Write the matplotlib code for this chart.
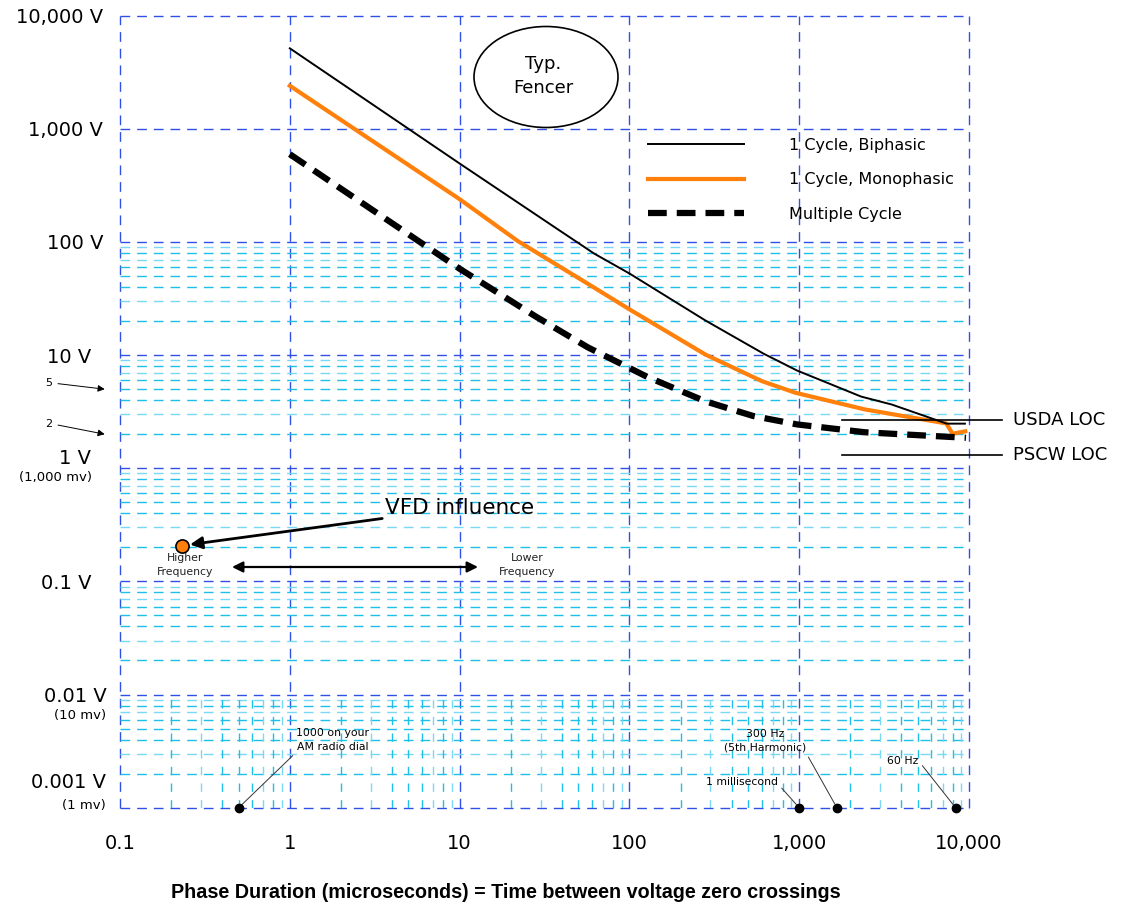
import numpy as np
import matplotlib.pyplot as plt
from matplotlib.patches import Ellipse
from matplotlib.transforms import ScaledTranslation

# phase duration (microseconds) vs peak voltage
bi_us = [1, 10, 38, 62, 100, 281, 617, 973, 2318, 3507, 7387, 9460]
bi_v = [5150, 494, 129, 79, 52.7, 20.2, 10.3, 7.3, 4.3, 3.66, 2.48, 2.48]

mono_us = [1, 10, 22, 62, 100, 281, 603, 950, 2440, 7350, 8000, 9500]
mono_v = [2404, 239, 102, 39.5, 25.4, 10.1, 5.89, 4.65, 3.31, 2.49, 2.02, 2.12]

multi_us = [1, 10, 28, 57, 100, 128, 281, 535, 973, 2440, 9600]
multi_v = [597, 58, 22, 11.7, 7.7, 6.4, 3.9, 2.9, 2.44, 2.08, 1.86]

loc_names = ['USDA LOC', 'PSCW LOC']
loc_v = [2.66, 1.30]

vfd_us = 0.231
vfd_v = 0.207

marker_us = [0.5, 1000, 1667, 8333]
marker_text = ['1000 on your\nAM radio dial', '1 millisecond', '300 Hz\n(5th Harmonic)', '60 Hz']

x_ticks = [0.1, 1, 10, 100, 1000, 10000]
x_labels = ['0.1', '1', '10', '100', '1,000', '10,000']
y_ticks = [1e4, 1e3, 100, 10, 1, 0.1, 0.01, 0.001]
y_labels = ['10,000 V', '1,000 V', '100 V', '10 V', '1 V', '0.1 V', '0.01 V', '0.001 V']
mv_labels = ['(1,000 mv)', '(10 mv)', '(1 mv)']

W, H = 1137, 909
fig = plt.figure(figsize=(W/100, H/100), dpi=100)
L, R, T, B = 120, 969, 15.7, 807.7
ax = fig.add_axes([L/W, 1-B/H, (R-L)/W, (B-T)/H])
ax.set_xscale('log'); ax.set_yscale('log')
ax.set_xlim(0.1, 1e4); ax.set_ylim(1e-3, 1e4)
for s in ax.spines.values():
    s.set_visible(False)

def axpos(px, py):
    # pixel position in the reference -> axes fraction
    return (px-L)/(R-L), (B-py)/(B-T)

# grid
major_c = '#2f50e4'
cyan_dark = '#1ec0ea'
cyan_light = '#78d8f6'
dash = (0, (7, 5))
for yv in y_ticks:
    ax.axhline(yv, color=major_c, lw=1, ls=dash, clip_on=False, zorder=1)
for xv in x_ticks:
    ax.axvline(xv, color=major_c, lw=1, ls=dash, clip_on=False, zorder=1)
for dec in [0.001, 0.01, 0.1, 1, 10]:
    for m in range(2, 10):
        c = cyan_light if m in (3, 7, 9) else cyan_dark
        ax.axhline(dec*m, color=c, lw=1, ls=dash, zorder=1)
for dec in [0.1, 1, 10, 100, 1000]:
    for m in range(2, 10):
        c = cyan_light if m in (3, 7, 9) else cyan_dark
        ax.vlines(dec*m, 0.001, 0.01, colors=c, lw=1, ls=(0, (6, 6)), zorder=1)

# curves
ax.plot(bi_us, bi_v, color='black', lw=1.4, zorder=4, label='1 Cycle, Biphasic')
ax.plot(mono_us, mono_v, color='#ff800a', lw=3, zorder=3, label='1 Cycle, Monophasic')
ax.plot(multi_us, multi_v, color='black', lw=4.5, ls=(0, (3, 1.6)), zorder=5,
        label='Multiple Cycle')

ax.legend(loc='upper left', bbox_to_anchor=(648/W, 1-138/H), bbox_transform=fig.transFigure,
          frameon=False, fontsize=11.5, handlelength=6, handletextpad=2.8,
          labelspacing=1.22, borderpad=0, borderaxespad=0)

# ticks
ax.minorticks_off()
ax.set_xticks(x_ticks, x_labels, fontsize=14)
ax.set_yticks(y_ticks, y_labels, fontsize=14)
ax.tick_params(length=0)
ax.tick_params(axis='x', pad=19)
ax.tick_params(axis='y', pad=12)
shifts = [(0, 0), (0, 0), (0, 0), (-12, 0), (-12, 12), (-12, 0), (3, 0), (3, 27)]
for lab, (dx, dy) in zip(ax.get_yticklabels(), shifts):
    lab.set_transform(lab.get_transform() + ScaledTranslation(dx/100, dy/100, fig.dpi_scale_trans))
for txt, (px, py) in zip(mv_labels, [(92, 477), (106, 716), (106, 806)]):
    ax.text(*axpos(px, py), txt, transform=ax.transAxes, ha='right', va='center', fontsize=9.5)

# small 5 / 2 pointers on the left
for lbl, yv, py in [('5', 5, 383), ('2', 2, 424)]:
    ax.annotate(lbl, xy=(-0.018, yv), xycoords=('axes fraction', 'data'),
                xytext=axpos(49, py), textcoords='axes fraction', fontsize=8,
                ha='center', va='center', annotation_clip=False,
                arrowprops=dict(arrowstyle='-|>', color='black', lw=0.7,
                                mutation_scale=10, shrinkA=2, shrinkB=0, relpos=(1, 0.5)))

# typical fencer bubble
ax.add_patch(Ellipse(axpos(546, 77), 144/(R-L), 101/(B-T), transform=ax.transAxes,
                     facecolor='white', edgecolor='black', lw=1.2, zorder=6, clip_on=False))
ax.text(*axpos(543, 76), 'Typ.\nFencer', transform=ax.transAxes, ha='center', va='center',
        fontsize=13, linespacing=1.4, zorder=7)

# LOC levels
for name, lv, in zip(loc_names, loc_v):
    ax.plot([axpos(842, 0)[0], axpos(1002, 0)[0]], [lv, lv], color='black', lw=1.2,
            transform=ax.get_yaxis_transform(), clip_on=False, zorder=4)
    ax.text(axpos(1013, 0)[0], lv, name, transform=ax.get_yaxis_transform(),
            ha='left', va='center', fontsize=13)

# VFD point
ax.plot([vfd_us], [vfd_v], 'o', color='#ff7f0a', mec='black', mew=1.2, ms=9.5, zorder=6)
ax.annotate('VFD influence', xy=(vfd_us, vfd_v), xytext=axpos(385, 508),
            textcoords='axes fraction', fontsize=15.5, ha='left', va='center',
            arrowprops=dict(arrowstyle='-|>', color='black', lw=2, mutation_scale=18,
                            shrinkA=0, shrinkB=6))
ax.text(*axpos(185, 565), 'Higher\nFrequency', transform=ax.transAxes, ha='center',
        va='center', fontsize=7.8, linespacing=1.5, color='#222222')
ax.text(*axpos(527, 565), 'Lower\nFrequency', transform=ax.transAxes, ha='center',
        va='center', fontsize=7.8, linespacing=1.5, color='#222222')
ax.annotate('', xy=axpos(478, 567), xytext=axpos(232, 567), xycoords='axes fraction',
            arrowprops=dict(arrowstyle='<|-|>', color='black', lw=1.6, mutation_scale=16,
                            shrinkA=0, shrinkB=0))

# frequency markers on the bottom line
ax.plot(marker_us, [0.001]*len(marker_us), 'o', color='black', ms=6, zorder=6, clip_on=False)
text_pos = [(333, 740), (742, 782), (765, 741), (903, 761)]
rel = [(0, 0), (1, 0.3), (1, 0), (1, 0.5)]
for xv, txt, (px, py), rp in zip(marker_us, marker_text, text_pos, rel):
    ax.annotate(txt, xy=(xv, 0.001), xytext=axpos(px, py), textcoords='axes fraction',
                fontsize=7.8, ha='center', va='center', linespacing=1.5,
                arrowprops=dict(arrowstyle='-', color='#333333', lw=0.7, shrinkA=1,
                                shrinkB=3, relpos=rp))

fig.text(506/W, 1-893/H, 'Phase Duration (microseconds) = Time between voltage zero crossings',
         ha='center', va='center', fontsize=14.2, fontweight='bold', family='Liberation Sans')

fig.savefig('out.png', dpi=100)
